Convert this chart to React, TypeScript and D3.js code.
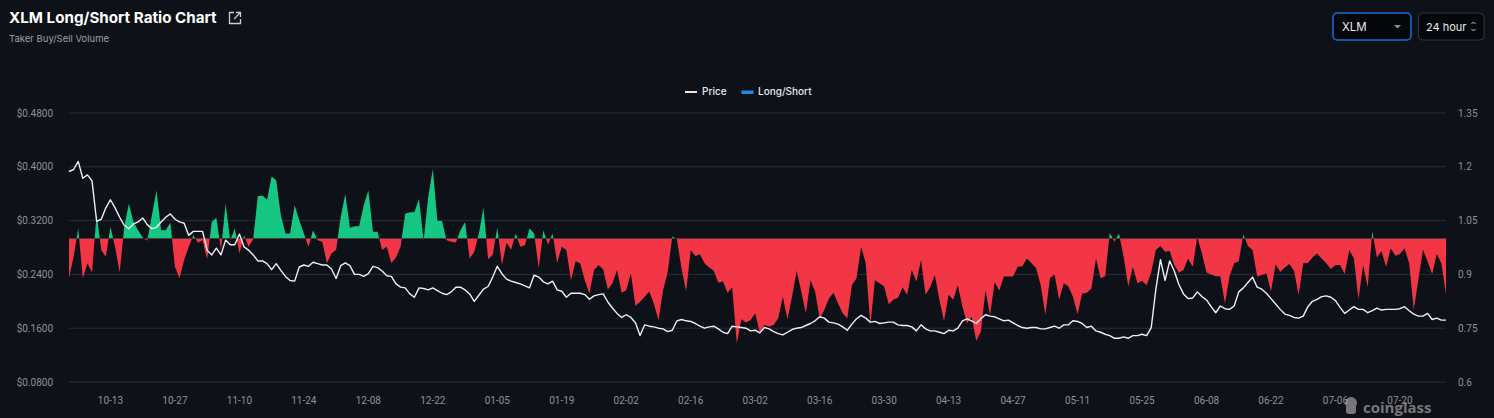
import React, { useRef, useEffect } from "react";
import * as d3 from "d3";

// chart size
let width = 1494;
let height = 418;

let marginLeft = 69;
let marginRight = 48;
let plotTop = 113;
let plotBottom = 382;

const bgColor = "#0e1118";
const gridColor = "#2a2e36";
const labelColor = "#8b919c";
const upColor = "#16c784";
const downColor = "#f23645";

// first day of the series, one value per day
const startDate = new Date(2024, 9, 4);

const tickLabels = [
  "10-13", "10-27", "11-10", "11-24", "12-08", "12-22", "01-05", "01-19", "02-02", "02-16", "03-02",
  "03-16", "03-30", "04-13", "04-27", "05-11", "05-25", "06-08", "06-22", "07-06", "07-20",
];

const priceTicks = [0.08, 0.16, 0.24, 0.32, 0.4, 0.48];
const ratioTicks = [0.6, 0.75, 0.9, 1.05, 1.2, 1.35];

const priceValues = [
  0.393, 0.396, 0.408, 0.383, 0.388, 0.379, 0.319, 0.322, 0.339, 0.351,
  0.339, 0.325, 0.313, 0.308, 0.315, 0.318, 0.324, 0.314, 0.308, 0.310,
  0.318, 0.325, 0.330, 0.322, 0.318, 0.316, 0.298, 0.304, 0.304, 0.304,
  0.276, 0.269, 0.279, 0.269, 0.291, 0.284, 0.284, 0.300, 0.281, 0.276,
  0.269, 0.260, 0.260, 0.256, 0.247, 0.256, 0.246, 0.237, 0.231, 0.230,
  0.251, 0.254, 0.252, 0.258, 0.256, 0.254, 0.254, 0.248, 0.234, 0.253,
  0.257, 0.253, 0.240, 0.240, 0.237, 0.241, 0.252, 0.250, 0.245, 0.238,
  0.237, 0.226, 0.221, 0.220, 0.211, 0.206, 0.220, 0.219, 0.217, 0.220,
  0.216, 0.212, 0.210, 0.214, 0.221, 0.221, 0.217, 0.211, 0.200, 0.209,
  0.218, 0.222, 0.236, 0.252, 0.241, 0.233, 0.230, 0.228, 0.226, 0.223,
  0.220, 0.239, 0.236, 0.229, 0.226, 0.230, 0.217, 0.215, 0.206, 0.212,
  0.212, 0.212, 0.210, 0.203, 0.208, 0.210, 0.211, 0.199, 0.190, 0.182,
  0.176, 0.180, 0.176, 0.168, 0.149, 0.165, 0.163, 0.162, 0.160, 0.159,
  0.155, 0.157, 0.171, 0.173, 0.171, 0.170, 0.167, 0.163, 0.160, 0.162,
  0.163, 0.159, 0.154, 0.152, 0.163, 0.162, 0.161, 0.160, 0.156, 0.157,
  0.153, 0.161, 0.159, 0.155, 0.152, 0.150, 0.154, 0.158, 0.160, 0.161,
  0.164, 0.167, 0.171, 0.177, 0.175, 0.169, 0.168, 0.166, 0.162, 0.157,
  0.166, 0.174, 0.179, 0.175, 0.169, 0.170, 0.167, 0.168, 0.169, 0.169,
  0.165, 0.164, 0.164, 0.162, 0.156, 0.165, 0.159, 0.156, 0.156, 0.154,
  0.152, 0.157, 0.156, 0.160, 0.171, 0.174, 0.171, 0.167, 0.174, 0.180,
  0.178, 0.177, 0.174, 0.171, 0.172, 0.168, 0.164, 0.161, 0.160, 0.161,
  0.161, 0.159, 0.159, 0.161, 0.163, 0.160, 0.165, 0.165, 0.171, 0.170,
  0.167, 0.161, 0.163, 0.156, 0.154, 0.151, 0.149, 0.145, 0.145, 0.147,
  0.145, 0.149, 0.149, 0.151, 0.149, 0.161, 0.218, 0.262, 0.231, 0.260,
  0.245, 0.225, 0.211, 0.204, 0.205, 0.214, 0.207, 0.202, 0.192, 0.183,
  0.193, 0.189, 0.188, 0.193, 0.214, 0.220, 0.228, 0.236, 0.221, 0.218,
  0.212, 0.204, 0.196, 0.188, 0.181, 0.179, 0.176, 0.175, 0.178, 0.192,
  0.200, 0.203, 0.207, 0.208, 0.206, 0.201, 0.191, 0.182, 0.187, 0.192,
  0.188, 0.188, 0.183, 0.186, 0.190, 0.187, 0.188, 0.188, 0.188, 0.189,
  0.192, 0.186, 0.181, 0.178, 0.178, 0.182, 0.173, 0.175, 0.172, 0.172,
];

const ratioValues = [
  0.891, 0.949, 1.028, 0.889, 0.931, 0.905, 1.069, 0.968, 0.949, 1.032,
  0.977, 0.905, 1.032, 1.097, 1.046, 1.023, 1.003, 0.994, 1.065, 1.134,
  1.023, 1.023, 1.044, 0.921, 0.889, 0.940, 0.977, 1.009, 0.988, 0.995,
  0.942, 1.046, 1.058, 0.968, 1.097, 0.995, 1.028, 0.958, 1.009, 0.977,
  0.998, 1.118, 1.120, 1.108, 1.173, 1.162, 1.065, 1.014, 1.014, 1.093,
  1.051, 1.014, 0.977, 1.023, 0.995, 0.991, 0.931, 0.958, 0.969, 1.060,
  1.124, 1.030, 1.034, 1.034, 1.093, 1.134, 1.019, 1.019, 0.968, 0.977,
  0.932, 0.947, 0.977, 1.069, 1.073, 1.073, 1.111, 0.994, 1.116, 1.194,
  1.049, 1.049, 0.995, 0.991, 0.989, 1.023, 1.046, 0.944, 0.963, 1.014,
  1.086, 0.942, 0.954, 1.031, 0.926, 0.988, 0.969, 1.014, 0.977, 0.981,
  1.028, 1.014, 0.917, 1.023, 0.983, 1.014, 0.932, 0.977, 0.968, 0.884,
  0.937, 0.931, 0.884, 0.847, 0.912, 0.926, 0.914, 0.858, 0.875, 0.912,
  0.849, 0.856, 0.903, 0.812, 0.824, 0.838, 0.852, 0.818, 0.773, 0.856,
  0.907, 1.006, 0.998, 0.917, 0.852, 0.968, 0.951, 0.956, 0.931, 0.919,
  0.910, 0.877, 0.881, 0.849, 0.864, 0.708, 0.775, 0.766, 0.773, 0.792,
  0.738, 0.759, 0.755, 0.759, 0.778, 0.838, 0.775, 0.838, 0.910, 0.852,
  0.792, 0.884, 0.852, 0.778, 0.801, 0.833, 0.849, 0.819, 0.792, 0.778,
  0.870, 0.889, 0.977, 0.931, 0.759, 0.884, 0.875, 0.866, 0.817, 0.829,
  0.835, 0.864, 0.843, 0.912, 0.880, 0.940, 0.843, 0.864, 0.898, 0.829,
  0.770, 0.843, 0.829, 0.870, 0.810, 0.764, 0.782, 0.715, 0.741, 0.856,
  0.787, 0.878, 0.855, 0.894, 0.894, 0.894, 0.921, 0.923, 0.944, 0.931,
  0.917, 0.870, 0.787, 0.889, 0.900, 0.829, 0.875, 0.866, 0.838, 0.789,
  0.847, 0.849, 0.861, 0.944, 0.889, 0.895, 1.016, 0.991, 1.014, 0.949,
  0.866, 0.921, 0.875, 0.882, 0.870, 0.907, 0.968, 0.979, 0.963, 0.965,
  0.926, 0.905, 0.912, 0.944, 0.921, 1.005, 0.958, 0.905, 0.900, 0.895,
  0.895, 0.819, 0.895, 0.931, 0.937, 1.011, 0.979, 0.968, 0.894, 0.898,
  0.903, 0.852, 0.928, 0.907, 0.919, 0.929, 0.910, 0.843, 0.931, 0.932,
  0.947, 0.958, 0.944, 0.931, 0.915, 0.926, 0.926, 0.901, 0.968, 0.944,
  0.831, 0.926, 0.864, 1.020, 0.947, 0.965, 0.921, 0.973, 0.952, 0.957,
  0.973, 0.931, 0.802, 0.885, 0.969, 0.936, 0.901, 0.957, 0.931, 0.844,
];

export default function App() {
  const svgRef = useRef<SVGSVGElement>(null);

  useEffect(() => {
    const svg = d3.select(svgRef.current);
    svg.selectAll("*").remove();

    const dates = priceValues.map((_, i) => d3.timeDay.offset(startDate, i));

    const x = d3
      .scaleTime()
      .domain([dates[0], dates[dates.length - 1]])
      .range([marginLeft, width - marginRight]);
    const yPrice = d3.scaleLinear().domain([0.08, 0.48]).range([plotBottom, plotTop]);
    const yRatio = d3.scaleLinear().domain([0.6, 1.35]).range([plotBottom, plotTop]);

    svg.append("rect").attr("width", width).attr("height", height).attr("fill", bgColor);

    // title block
    svg.append("text")
      .attr("x", 9).attr("y", 23)
      .attr("fill", "#ffffff")
      .attr("font-family", "Inter, 'Noto Sans', sans-serif")
      .attr("font-weight", 700)
      .attr("font-size", 15.2)
      .text("XLM Long/Short Ratio Chart");
    const icon = svg.append("g").attr("transform", "translate(229,12)")
      .attr("fill", "none").attr("stroke", "#c9ccd2").attr("stroke-width", 1.3);
    icon.append("path").attr("d", "M5,0.5 H0.5 V11.5 H11.5 V7");
    icon.append("path").attr("d", "M7,0.5 H11.5 V5 M11.5,0.5 L5,7");
    svg.append("text")
      .attr("x", 9).attr("y", 42)
      .attr("fill", "#9aa0aa")
      .attr("font-family", "Inter, 'Noto Sans', sans-serif")
      .attr("font-size", 9.5)
      .text("Taker Buy/Sell Volume");

    // selectors top right
    svg.append("rect").attr("x", 1333).attr("y", 13).attr("width", 78).attr("height", 27).attr("rx", 4)
      .attr("fill", "#05070b").attr("stroke", "#1a6fd6").attr("stroke-width", 1.5);
    svg.append("text").attr("x", 1342).attr("y", 30.5).attr("fill", "#e8eaee")
      .attr("font-family", "Inter, sans-serif").attr("font-size", 11.5).text("XLM");
    svg.append("path").attr("d", "M1394,25 L1401,25 L1397.5,28.5 Z").attr("fill", "#8b919c");
    svg.append("rect").attr("x", 1418.5).attr("y", 13).attr("width", 65.5).attr("height", 27).attr("rx", 4)
      .attr("fill", "#05070b").attr("stroke", "#30343c").attr("stroke-width", 1);
    svg.append("text").attr("x", 1426).attr("y", 30.5).attr("fill", "#e8eaee")
      .attr("font-family", "Inter, sans-serif").attr("font-size", 11).text("24 hour");
    svg.append("path").attr("d", "M1471.5,24 L1473.5,22 L1475.5,24 M1471.5,29 L1473.5,31 L1475.5,29")
      .attr("fill", "none").attr("stroke", "#c9ccd2").attr("stroke-width", 1);

    // legend
    const legend = svg.append("g").attr("font-family", "Inter, sans-serif").attr("font-size", 10)
      .attr("font-weight", 500).attr("fill", "#e6e8ec");
    legend.append("line").attr("x1", 685).attr("x2", 697).attr("y1", 92).attr("y2", 92)
      .attr("stroke", "#e6e8ec").attr("stroke-width", 2);
    legend.append("text").attr("x", 702).attr("y", 95).text("Price");
    legend.append("rect").attr("x", 741.5).attr("y", 90.5).attr("width", 12).attr("height", 3.5)
      .attr("fill", "#1e88e5");
    legend.append("text").attr("x", 758).attr("y", 95).text("Long/Short");

    // grid lines
    svg.append("g")
      .selectAll("line")
      .data(priceTicks)
      .join("line")
      .attr("x1", marginLeft).attr("x2", width - marginRight)
      .attr("y1", (d) => yPrice(d)).attr("y2", (d) => yPrice(d))
      .attr("stroke", gridColor).attr("stroke-width", 1);

    // left axis
    svg.append("g")
      .attr("font-family", "Roboto, 'DejaVu Sans', sans-serif")
      .attr("font-size", 10)
      .attr("fill", labelColor)
      .attr("text-anchor", "end")
      .selectAll("text")
      .data(priceTicks)
      .join("text")
      .attr("x", 53)
      .attr("y", (d) => yPrice(d))
      .attr("dy", "0.35em")
      .text((d) => "$" + d.toFixed(4));

    // right axis
    svg.append("g")
      .attr("font-family", "Roboto, 'DejaVu Sans', sans-serif")
      .attr("font-size", 10)
      .attr("fill", labelColor)
      .selectAll("text")
      .data(ratioTicks)
      .join("text")
      .attr("x", 1458)
      .attr("y", (d) => yRatio(d))
      .attr("dy", "0.35em")
      .text((d) => String(d));

    // bottom axis
    const parseTick = (s: string) => {
      const [m, day] = s.split("-").map(Number);
      return new Date(m >= 10 ? 2024 : 2025, m - 1, day);
    };
    svg.append("g")
      .attr("font-family", "Roboto, 'DejaVu Sans', sans-serif")
      .attr("font-size", 10)
      .attr("fill", labelColor)
      .attr("text-anchor", "middle")
      .selectAll("text")
      .data(tickLabels)
      .join("text")
      .attr("x", (d) => x(parseTick(d)))
      .attr("y", 404)
      .text((d) => d);

    // long/short area split at 1.0
    const base = yRatio(1);
    const area = d3.area<number>()
      .x((_, i) => x(dates[i]))
      .y0(base)
      .y1((d) => yRatio(d));

    const defs = svg.append("defs");
    defs.append("clipPath").attr("id", "clip-up")
      .append("rect").attr("x", 0).attr("y", 0).attr("width", width).attr("height", base);
    defs.append("clipPath").attr("id", "clip-down")
      .append("rect").attr("x", 0).attr("y", base).attr("width", width).attr("height", height - base);

    svg.append("path").datum(ratioValues)
      .attr("d", area).attr("fill", upColor).attr("clip-path", "url(#clip-up)");
    svg.append("path").datum(ratioValues)
      .attr("d", area).attr("fill", downColor).attr("clip-path", "url(#clip-down)");

    // price line
    const line = d3.line<number>()
      .x((_, i) => x(dates[i]))
      .y((d) => yPrice(d));
    svg.append("path").datum(priceValues)
      .attr("d", line)
      .attr("fill", "none")
      .attr("stroke", "#eef0f3")
      .attr("stroke-width", 1.4)
      .attr("stroke-linejoin", "round");

    // watermark, it sits over the last tick labels like in the source
    const mark = svg.append("g").attr("opacity", 0.75);
    mark.append("circle").attr("cx", 1351).attr("cy", 403).attr("r", 6).attr("fill", "#9a9a9a");
    mark.append("rect").attr("x", 1346).attr("y", 405).attr("width", 10).attr("height", 9).attr("rx", 3).attr("fill", "#9a9a9a");
    mark.append("text").attr("x", 1363).attr("y", 413)
      .attr("font-family", "'Open Sans', Roboto, sans-serif")
      .attr("font-weight", 700)
      .attr("font-size", 15)
      .attr("fill", "#9a9a9a")
      .text("coinglass");
  }, []);

  return (
    <div>
      <style>{`body{margin:0;background:${bgColor};}`}</style>
      <svg ref={svgRef} width={width} height={height} style={{ display: "block" }} />
    </div>
  );
}
